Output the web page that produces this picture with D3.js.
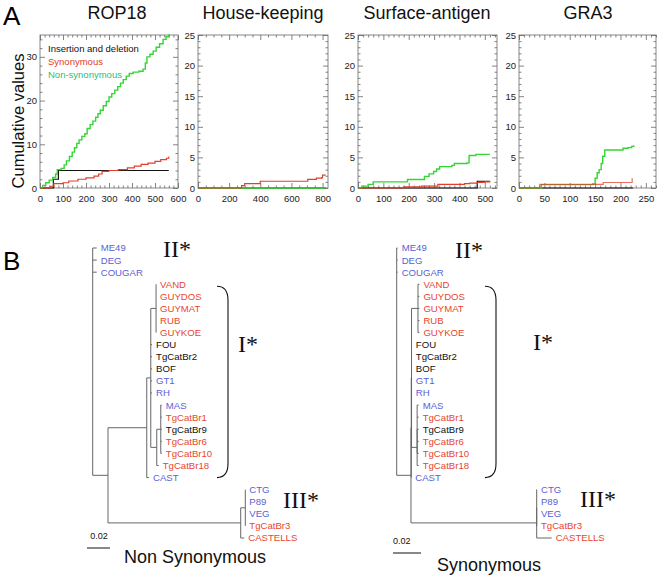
<!DOCTYPE html>
<html><head><meta charset="utf-8">
<script src="https://cdn.jsdelivr.net/npm/d3@7"></script>
<style>body{margin:0;background:#fff}svg{display:block}</style>
</head><body>
<script>
// ---------------- DATA ----------------
// Panel A: cumulative values [position, value]
const plotTitles = ["ROP18", "House-keeping", "Surface-antigen", "GRA3"];
const legendLabels = ["Insertion and deletion", "Synonymous", "Non-synonymous"];

const rop18Indel = [[0,0],[55,0],[58,2],[76,2],[80,4],[560,4]];
const rop18Syn = [[0,0],[40,0],[45,0.4],[60,1],[100,1.2],[125,1.6],[165,2],[200,2.3],[235,2.7],[255,3.2],[270,3.8],[300,4],[340,4.2],[380,4.6],[410,5],[440,5.4],[470,5.7],[500,6.1],[525,6.5],[550,6.8],[560,7.2]];
const rop18NonSyn = [[0,0],[12,0.6],[25,1.2],[40,1.8],[55,2.4],[68,3.2],[75,4.2],[92,4.5],[105,5.3],[115,6.2],[128,7.2],[140,8.2],[150,9.2],[160,10.2],[170,11],[182,11.8],[195,12.4],[205,13.6],[218,14.5],[230,15.3],[242,16.2],[252,17],[262,17.8],[275,18.8],[288,19.8],[300,20.8],[312,21.6],[325,22.4],[338,23.2],[350,24],[362,24.8],[375,25.6],[388,26.2],[405,26.5],[430,26.7],[448,27.2],[458,28.6],[465,30],[478,30.6],[492,31.3],[505,32.2],[520,33],[535,34],[548,34.6],[560,35.2]];

const hkIndel = [[0,0],[820,0]];
const hkSyn = [[0,0],[270,0],[280,0.4],[300,0.7],[395,0.7],[400,1.1],[700,1.1],[705,1.4],[760,1.6],[795,1.7],[800,2.1],[820,2.1]];
const hkNonSyn = [[0,0],[820,0]];

const saIndel = [[0,0],[465,0],[470,1.1],[520,1.1]];
const saSyn = [[0,0],[170,0],[180,0.2],[250,0.3],[315,0.6],[420,0.7],[440,0.8],[470,0.9],[500,1],[520,1.1]];
const saNonSyn = [[0,0],[15,0.3],[40,0.6],[60,1],[190,1],[195,1.4],[255,1.4],[262,1.9],[280,2.3],[298,2.7],[310,3.1],[322,3.5],[370,3.7],[380,4],[430,4.1],[438,5.3],[465,5.5],[520,5.5]];

const gra3Indel = [[0,0],[225,0]];
const gra3Syn = [[0,0],[40,0],[41,0.6],[165,0.6],[166,0.9],[222,0.9],[223,1.6]];
const gra3NonSyn = [[0,0],[42,0],[44,0.55],[145,0.65],[150,1.6],[154,2.5],[158,3],[162,4],[165,5.2],[169,6.2],[200,6.2],[205,6.5],[215,6.6],[222,6.8],[226,7]];

const xDomains = [[0,600],[0,835],[0,548],[0,270]];
const yDomains = [[0,35],[0,25],[0,25],[0,25]];
const xMajorSteps = [100,200,100,50];
const xMinorSteps = [20,50,20,10];
const yMajorSteps = [10,5,5,5];
const yMinorSteps = [2,1,1,1];

// Panel B: phylogenetic trees
const leafOrder = ["ME49","DEG","COUGAR","VAND","GUYDOS","GUYMAT","RUB","GUYKOE","FOU","TgCatBr2","BOF","GT1","RH","MAS","TgCatBr1","TgCatBr9","TgCatBr6","TgCatBr10","TgCatBr18","CAST","CTG","P89","VEG","TgCatBr3","CASTELLS"];
const leafColorKey = ["b","b","b","r","r","r","r","r","k","k","k","b","b","b","r","k","r","r","r","b","b","b","b","r","r"];
const treeNodeIds = ["root","ME49","DEG","COUGAR","N1","cladeI","S1","V","VAND","GUYDOS","GUYMAT","RUB","GUYKOE","FOU","TgCatBr2","BOF","GT1","RH","M1","M2","MAS","TgCatBr1","TgCatBr9","TgCatBr6","TgCatBr10","TgCatBr18","CAST","cladeIII","III2","CTG","P89","VEG","TgCatBr3","CASTELLS"];
const treeParentIds = [null,"root","root","root","root","N1","cladeI","S1","V","V","V","V","V","S1","S1","S1","S1","S1","S1","M1","M2","M2","M2","M2","M2","M1","cladeI","N1","cladeIII","III2","III2","III2","III2","cladeIII"];
const nonSynBranch = [0,0.0035,0.0035,0.0035,0.0133,0.0337,0.0035,0.0046,0,0,0,0,0,0.0011,0.0011,0.0011,0.0011,0.0011,0.0052,0.0035,0.0009,0.0009,0.0009,0.0009,0.0009,0.0017,0.002,0.1154,0.004,0,0,0,0,0.0031];
const synBranch = [0,0.0007,0.0007,0.0007,0.0102,0.0002,0.0002,0.0046,0.001,0.001,0.001,0.001,0.001,0.0002,0.0002,0.0002,0.0002,0.0002,0.004,0,0.0011,0.0011,0.0011,0.0011,0.0011,0.0011,0,0.0898,0,0.0002,0.0002,0.0002,0.0002,0.0107];
const treeTitles = ["Non Synonymous", "Synonymous"];
const cladeLabels = ["II*", "I*", "III*"];
const scaleBarValue = 0.02;

// ---------------- DRAW ----------------
const W = 661, H = 577;
const sans = "'Liberation Sans', Arial, Helvetica, sans-serif";
const serif = "'Liberation Serif', 'Times New Roman', serif";
const cIndel = "#111", cSyn = "#e0402a", cNon = "#33d633", cNonText = "#1fc07a";
const leafColors = {b: "#5a5fd6", r: "#e8462e", k: "#111"};

const svg = d3.select("body").append("svg").attr("width", W).attr("height", H)
  .style("font-family", sans);
svg.append("rect").attr("width", W).attr("height", H).attr("fill", "#fff");

// Panel letters
svg.append("text").attr("x", 3).attr("y", 25).attr("font-size", 26).text("A");
svg.append("text").attr("x", 3).attr("y", 270).attr("font-size", 26).text("B");

const plotLefts = [40, 198, 358, 519];
const plotRights = [178, 328, 497, 656];
const titleXs = [117, 263, 427, 588];
const plotTop = 35, plotBottom = 188;
const seriesSets = [
  [rop18Indel, rop18NonSyn, rop18Syn],
  [hkIndel, hkNonSyn, hkSyn],
  [saIndel, saNonSyn, saSyn],
  [gra3Indel, gra3NonSyn, gra3Syn]
];
const seriesColors = [cIndel, cNon, cSyn];
const seriesWidths = [1.2, 1.4, 1.2];

function ticksFor(dom, step) { return d3.range(dom[0], dom[1] + 1e-9, step); }

function styleAxis(sel, showLabels) {
  sel.select(".domain").remove();
  sel.selectAll(".tick line").attr("stroke", "#666").attr("stroke-width", 0.8);
  sel.selectAll(".tick text").attr("fill", "#222").attr("font-size", 9.5).attr("font-family", sans);
  if (!showLabels) sel.selectAll(".tick text").remove();
}

plotTitles.forEach((title, i) => {
  const x = d3.scaleLinear().domain(xDomains[i]).range([plotLefts[i], plotRights[i]]);
  const y = d3.scaleLinear().domain(yDomains[i]).range([plotBottom, plotTop]);
  const g = svg.append("g");
  g.append("rect").attr("x", plotLefts[i]).attr("y", plotTop)
    .attr("width", plotRights[i] - plotLefts[i]).attr("height", plotBottom - plotTop)
    .attr("fill", "#fff").attr("stroke", "#888").attr("stroke-width", 1);

  const xMaj = ticksFor(xDomains[i], xMajorSteps[i]);
  const xMin = ticksFor(xDomains[i], xMinorSteps[i]).filter(v => !xMaj.includes(v));
  const yMaj = ticksFor(yDomains[i], yMajorSteps[i]);
  const yMin = ticksFor(yDomains[i], yMinorSteps[i]).filter(v => !yMaj.includes(v));

  g.append("g").attr("transform", `translate(0,${plotBottom})`)
    .call(d3.axisBottom(x).tickValues(xMaj).tickSize(-5).tickPadding(7).tickFormat(d3.format("d")))
    .call(s => styleAxis(s, true));
  g.append("g").attr("transform", `translate(0,${plotBottom})`)
    .call(d3.axisBottom(x).tickValues(xMin).tickSize(-2.5).tickFormat(""))
    .call(s => styleAxis(s, false));
  g.append("g").attr("transform", `translate(0,${plotTop})`)
    .call(d3.axisTop(x).tickValues(xMaj).tickSize(-5).tickFormat(""))
    .call(s => styleAxis(s, false));
  g.append("g").attr("transform", `translate(0,${plotTop})`)
    .call(d3.axisTop(x).tickValues(xMin).tickSize(-2.5).tickFormat(""))
    .call(s => styleAxis(s, false));
  g.append("g").attr("transform", `translate(${plotLefts[i]},0)`)
    .call(d3.axisLeft(y).tickValues(yMaj).tickSize(-5).tickPadding(3).tickFormat(d3.format("d")))
    .call(s => styleAxis(s, true));
  g.append("g").attr("transform", `translate(${plotLefts[i]},0)`)
    .call(d3.axisLeft(y).tickValues(yMin).tickSize(-2.5).tickFormat(""))
    .call(s => styleAxis(s, false));
  g.append("g").attr("transform", `translate(${plotRights[i]},0)`)
    .call(d3.axisRight(y).tickValues(yMaj).tickSize(-5).tickFormat(""))
    .call(s => styleAxis(s, false));
  g.append("g").attr("transform", `translate(${plotRights[i]},0)`)
    .call(d3.axisRight(y).tickValues(yMin).tickSize(-2.5).tickFormat(""))
    .call(s => styleAxis(s, false));

  const line = d3.line().x(d => x(d[0])).y(d => y(d[1])).curve(d3.curveStepAfter);
  seriesSets[i].forEach((data, k) => {
    g.append("path").attr("d", line(data)).attr("fill", "none")
      .attr("stroke", seriesColors[k]).attr("stroke-width", seriesWidths[k])
      .attr("stroke-opacity", (i === 3 && k === 2) ? 0.75 : 1);
  });

  svg.append("text").attr("x", titleXs[i]).attr("y", 19).attr("text-anchor", "middle")
    .attr("font-size", 18).attr("fill", "#111").text(title);
});

// y axis title
svg.append("text").attr("transform", "translate(24,121) rotate(-90)")
  .attr("text-anchor", "middle").attr("font-size", 16.5).attr("fill", "#111").text("Cumulative values");

// legend
const legendColors = [cIndel, cSyn, cNonText];
legendLabels.forEach((t, k) => {
  svg.append("text").attr("x", 48).attr("y", 52 + k * 13).attr("font-size", 9.5)
    .attr("fill", legendColors[k]).text(t);
});

// ---------------- TREES ----------------
const rows = treeNodeIds.map((id, i) => ({id, parent: treeParentIds[i], i}));
const yLeaf = d3.scalePoint().domain(leafOrder).range([248, 538]);

function drawTree(branch, originX, pxPerScale, opts) {
  const root = d3.stratify().id(d => d.id).parentId(d => d.parent)(rows);
  const xs = d3.scaleLinear().domain([0, scaleBarValue]).range([originX, originX + pxPerScale]);
  root.eachBefore(n => { n.len = (n.parent ? n.parent.len : 0) + branch[n.data.i]; n.px = xs(n.len); });
  root.eachAfter(n => {
    if (!n.children) n.py = yLeaf(n.id);
    else n.py = (n.children[0].py + n.children[n.children.length - 1].py) / 2;
  });
  const g = svg.append("g").attr("stroke", "#666").attr("stroke-width", 1).attr("fill", "none");
  root.each(n => {
    if (n.children) {
      g.append("line").attr("x1", n.px).attr("x2", n.px)
        .attr("y1", n.children[0].py).attr("y2", n.children[n.children.length - 1].py);
    }
    if (n.parent) {
      g.append("line").attr("x1", n.parent.px).attr("x2", n.px).attr("y1", n.py).attr("y2", n.py);
    }
  });
  root.leaves().forEach(n => {
    const k = leafColorKey[leafOrder.indexOf(n.id)];
    svg.append("text").attr("x", n.px + 4).attr("y", n.py).attr("dy", "0.36em")
      .attr("font-size", 9.6).attr("fill", leafColors[k]).text(n.id);
  });
  // scale bar
  const w = xs(scaleBarValue) - xs(0);
  svg.append("line").attr("x1", opts.barX).attr("x2", opts.barX + w)
    .attr("y1", opts.barY).attr("y2", opts.barY).attr("stroke", "#111").attr("stroke-width", 1);
  svg.append("text").attr("x", opts.barLabelX).attr("y", opts.barY - 9)
    .attr("text-anchor", opts.barAnchor).attr("font-size", 9).attr("fill", "#111").text("0.02");
  // bracket
  const bx0 = opts.bracketX, bx1 = opts.bracketX + 11, by0 = yLeaf("VAND") + 2, by1 = yLeaf("CAST");
  svg.append("path")
    .attr("d", `M${bx0},${by0} Q${bx1},${by0} ${bx1},${by0 + 14} L${bx1},${by1 - 14} Q${bx1},${by1} ${bx0},${by1}`)
    .attr("fill", "none").attr("stroke", "#111").attr("stroke-width", 1.1);
  // clade labels
  opts.clade.forEach((c, k) => {
    svg.append("text").attr("x", c[0]).attr("y", c[1]).attr("font-family", serif)
      .attr("font-size", 24).attr("fill", "#111").text(cladeLabels[k]);
  });
  svg.append("text").attr("x", opts.titleX).attr("y", opts.titleY).attr("text-anchor", "middle")
    .attr("font-size", 18).attr("fill", "#111").text(opts.title);
}

drawTree(nonSynBranch, 92.7, 23, {
  barX: 87, barY: 548, barLabelX: 99, barAnchor: "middle", bracketX: 217,
  clade: [[163, 257], [238, 352], [283, 508]],
  titleX: 195, titleY: 563, title: treeTitles[0]
});
drawTree(synBranch, 396.7, 28, {
  barX: 393, barY: 553, barLabelX: 393, barAnchor: "start", bracketX: 485,
  clade: [[455, 258], [533, 350], [580, 507]],
  titleX: 489, titleY: 571, title: treeTitles[1]
});
</script>
</body></html>
